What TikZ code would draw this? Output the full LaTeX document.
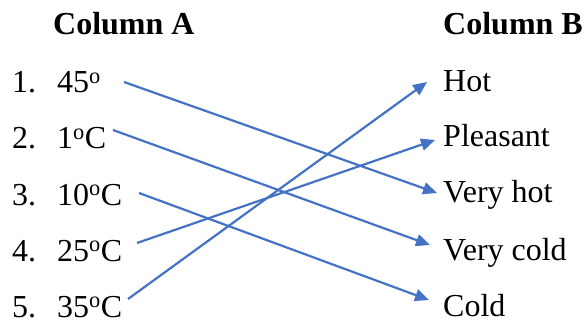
\documentclass[tikz,border=0pt]{standalone}
\usepackage{fontspec}
\setmainfont{Liberation Serif}
\usepackage{tikz}
\usetikzlibrary{arrows.meta}
\definecolor{linkBlue}{HTML}{4472C4}

\begin{document}
\begin{tikzpicture}[x=1pt, y=-1pt,
  item/.style={anchor=base west, inner sep=0pt, font=\fontsize{32}{38}\selectfont},
  head/.style={item, font=\fontsize{32}{38}\selectfont\bfseries},
  link/.style={draw=linkBlue, line width=2.2pt,
               -{Triangle[length=14pt,width=12pt]}}]
\useasboundingbox (0,0) rectangle (585,320);

% column headings
\node[head] (headA) at (53,35) {Column A};
\node[head] (headB) at (443,35) {Column B};

% column A
\foreach \val/\y [count=\i] in {%
  {45\textsuperscript{o}}/93,%
  {1\textsuperscript{o}C}/149,%
  {10\textsuperscript{o}C}/205,%
  {25\textsuperscript{o}C}/261,%
  {35\textsuperscript{o}C}/317%
}
{
  \node[item] (num\i) at (12,\y) {\i.};
  \node[item] (left\i) at (57,\y) {\val};
}

% column B
\foreach \val/\y [count=\i] in {%
  Hot/92, Pleasant/147, Very hot/203, Very cold/260, Cold/316%
}
{
  \node[item] (right\i) at (443,\y) {\val};
}

% matching lines
\draw[link] ([xshift=67pt,yshift=11pt]left1.base west)
  -- ([xshift=-6pt,yshift=10pt]right3.base west);
\draw[link] ([xshift=56pt,yshift=19pt]left2.base west)
  -- ([xshift=-13pt,yshift=15pt]right4.base west);
\draw[link] ([xshift=82pt,yshift=12pt]left3.base west)
  -- ([xshift=-14pt,yshift=16pt]right5.base west);
\draw[link] ([xshift=80pt,yshift=18pt]left4.base west)
  -- ([xshift=-8pt,yshift=7pt]right2.base west);
\draw[link] ([xshift=71pt,yshift=18pt]left5.base west)
  -- ([xshift=-16pt,yshift=10pt]right1.base west);

\end{tikzpicture}
\end{document}
